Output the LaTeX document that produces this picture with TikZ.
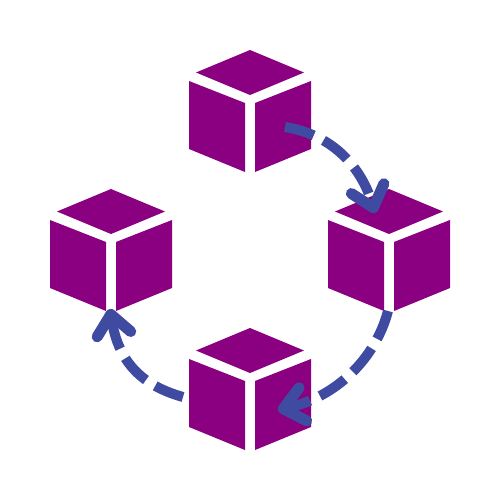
\documentclass[tikz,border=0pt]{standalone}
\usepackage{xcolor}
\usetikzlibrary{arrows.meta}
\definecolor{cubepurple}{HTML}{8B0080}
\definecolor{hopblue}{HTML}{3F4BA0}
\tikzset{cubeface/.style={fill=cubepurple,draw=none},
 hop/.style={draw=hopblue,line width=10pt,dash pattern=on 30pt off 11pt,
  -{Straight Barb[round,length=20pt,width=34pt,line width=11pt]}},
 pics/cube/.style={code={
  \fill[cubeface] (0,-89) -- (54,-66.5) -- (0,-44) -- (-54,-66.5) -- cycle;
  \fill[cubeface] (-61,-58) -- (-5,-36) -- (-5,33) -- (-61,10) -- cycle;
  \fill[cubeface] (61,-58) -- (5,-36) -- (5,33) -- (61,10) -- cycle;
 }},
}

\begin{document}
\begin{tikzpicture}[x=1pt,y=-1pt]
        \useasboundingbox (0,0) rectangle (500,500);
        % the four cubes
        \pic (top) at (250,139) {cube};
        \pic (right) at (389,278) {cube};
        \pic (bottom) at (250,417) {cube};
        \pic (left) at (111,278) {cube};
        % ends of the hops
        \coordinate (topout) at (285,127);
        \coordinate (rightin) at (375,213);
        \coordinate (rightout) at (388,311);
        \coordinate (bottomin) at (278,410);
        \coordinate (bottomout) at (183,397);
        \coordinate (leftin) at (110,309);
        \draw[hop] (topout) .. controls (335,135) and (362,170) .. (rightin);
        \draw[hop] (rightout) .. controls (375,360) and (335,397) .. (bottomin);
        \draw[hop] (bottomout) .. controls (140,385) and (118,360) .. (leftin);
    \end{tikzpicture}
\end{document}
